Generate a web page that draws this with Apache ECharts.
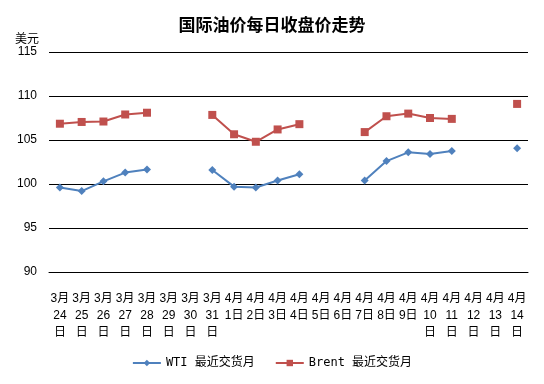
<!DOCTYPE html>
<html><head><meta charset="utf-8">
<script src="https://cdn.jsdelivr.net/npm/echarts@6/dist/echarts.min.js"></script>
<style>html,body{margin:0;padding:0;background:#fff}#c{width:544px;height:384px}</style>
</head><body><div id="c"></div>
<script>
const categories = ['3月\n24\n日','3月\n25\n日','3月\n26\n日','3月\n27\n日','3月\n28\n日','3月\n29\n日','3月\n30\n日','3月\n31\n日','4月\n1日','4月\n2日','4月\n3日','4月\n4日','4月\n5日','4月\n6日','4月\n7日','4月\n8日','4月\n9日','4月\n10\n日','4月\n11\n日','4月\n12\n日','4月\n13\n日','4月\n14\n日'];
const wti = [99.6,99.2,100.3,101.3,101.65,null,null,101.6,99.7,99.6,100.4,101.1,null,null,100.4,102.6,103.6,103.4,103.75,null,null,104.05];
const brent = [106.85,107.05,107.1,107.9,108.1,null,null,107.85,105.65,104.8,106.2,106.8,null,null,105.9,107.7,108.0,107.5,107.4,null,null,109.1];
const yTicks = [90,95,100,105,110,115];
const font = 'Liberation Sans, Noto Sans CJK SC, sans-serif';
const chart = echarts.init(document.getElementById('c'));
chart.setOption({
  animation:false,
  title:{text:'国际油价每日收盘价走势',left:'center',top:11,textStyle:{fontSize:17,fontWeight:'bold',color:'#000',fontFamily:'Noto Sans CJK SC'}},
  grid:{left:49,right:16,top:52,bottom:112},
  legend:{bottom:10,itemGap:20,itemWidth:28,itemHeight:8,textStyle:{fontSize:12,color:'#000',fontFamily:'DejaVu Sans Mono, Noto Sans CJK SC'},
    data:['WTI 最近交货月','Brent 最近交货月']},
  xAxis:{type:'category',data:categories,boundaryGap:true,
    axisLine:{lineStyle:{color:'#000'}},axisTick:{show:false},
    axisLabel:{interval:0,color:'#000',fontSize:12,lineHeight:17,margin:18,fontFamily:font}},
  yAxis:{type:'value',min:yTicks[0],max:yTicks[yTicks.length-1],interval:5,
    name:'美元',nameLocation:'end',nameGap:8,nameTextStyle:{color:'#000',fontSize:12,align:'right',padding:[0,10,0,0],fontFamily:'Noto Sans CJK SC'},
    axisLine:{show:false},axisTick:{show:false},
    axisLabel:{color:'#000',fontSize:12,margin:12,fontFamily:font},
    splitLine:{show:true,lineStyle:{color:'#000',width:1,type:'solid'}}},
  series:[
    {name:'WTI 最近交货月',type:'line',data:wti,connectNulls:false,symbol:'diamond',symbolSize:8,
      lineStyle:{color:'#4F81BD',width:2},itemStyle:{color:'#4F81BD'}},
    {name:'Brent 最近交货月',type:'line',data:brent,connectNulls:false,symbol:'rect',symbolSize:8,
      lineStyle:{color:'#C0504D',width:2},itemStyle:{color:'#C0504D'}}
  ]
});
</script></body></html>
